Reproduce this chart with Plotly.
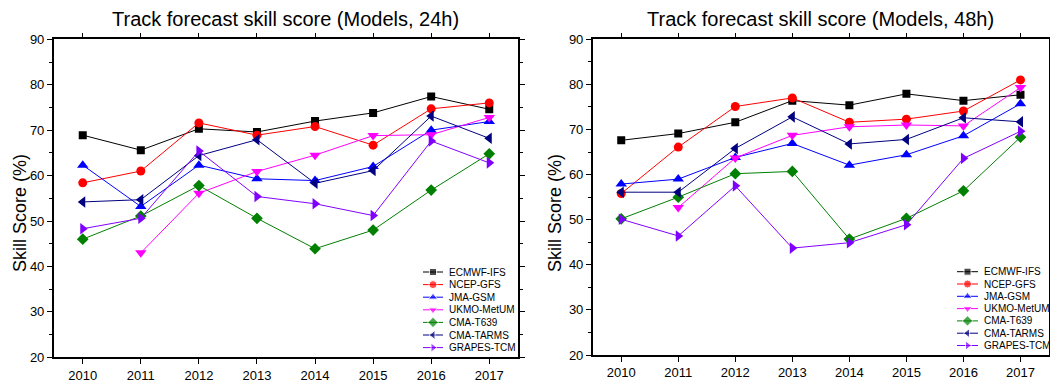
import plotly.graph_objects as go

years = [2010, 2011, 2012, 2013, 2014, 2015, 2016, 2017]
models = ["ECMWF-IFS", "NCEP-GFS", "JMA-GSM", "UKMO-MetUM", "CMA-T639", "CMA-TARMS", "GRAPES-TCM"]

# 24h skill scores (%)
ecmwf_24 = [68.9, 65.6, 70.3, 69.6, 72.0, 73.8, 77.4, 74.6]
ncep_24 = [58.4, 61.0, 71.6, 68.9, 70.8, 66.7, 74.7, 76.0]
jma_24 = [62.3, 53.2, 62.3, 59.3, 58.9, 62.0, 70.0, 71.9]
ukmo_24 = [None, 43.0, 56.1, 60.9, 64.5, 68.8, 69.0, 72.8]
t639_24 = [46.0, 51.1, 57.8, 50.6, 43.9, 48.0, 56.8, 64.8]
tarms_24 = [54.2, 54.7, 64.4, 67.9, 58.3, 61.1, 73.1, 68.2]
grapes_24 = [48.3, 50.6, 65.4, 55.4, 53.8, 51.2, 67.6, 62.8]

# 48h skill scores (%)
ecmwf_48 = [67.6, 69.1, 71.6, 76.4, 75.4, 77.9, 76.4, 77.7]
ncep_48 = [55.8, 66.1, 75.1, 77.0, 71.6, 72.3, 74.1, 81.0]
jma_48 = [57.9, 59.0, 63.8, 66.9, 62.1, 64.4, 68.6, 75.7]
ukmo_48 = [None, 52.7, 63.7, 68.7, 70.6, 71.0, 70.8, 79.3]
t639_48 = [50.2, 55.0, 60.2, 60.7, 45.7, 50.3, 56.4, 68.3]
tarms_48 = [56.1, 56.1, 65.8, 72.8, 66.8, 67.8, 72.6, 71.7]
grapes_48 = [50.1, 46.4, 57.5, 43.7, 44.9, 48.9, 63.6, 69.6]

series_24 = [ecmwf_24, ncep_24, jma_24, ukmo_24, t639_24, tarms_24, grapes_24]
series_48 = [ecmwf_48, ncep_48, jma_48, ukmo_48, t639_48, tarms_48, grapes_48]

colors = ["#000000", "#FF0000", "#0000FF", "#FF00FF", "#008000", "#000080", "#8000FF"]
symbols = ["square", "circle", "triangle-up", "triangle-down", "diamond", "triangle-left", "triangle-right"]
sizes = [8, 9, 10, 10, 9, 10, 10]
leg_sizes = [7, 8, 8, 8, 8, 8, 8]

FONT = "Arial, Liberation Sans, sans-serif"
W, H = 1050, 383

fig = go.Figure()
for i, name in enumerate(models):
    fig.add_trace(go.Scatter(
        x=years, y=series_24[i], name=name, mode="lines+markers",
        line=dict(color=colors[i], width=1),
        marker=dict(symbol=symbols[i], size=sizes[i], color=colors[i]),
        xaxis="x", yaxis="y", showlegend=False, connectgaps=False,
    ))
for i, name in enumerate(models):
    fig.add_trace(go.Scatter(
        x=years, y=series_48[i], name=name, mode="lines+markers",
        line=dict(color=colors[i], width=1),
        marker=dict(symbol=symbols[i], size=sizes[i], color=colors[i]),
        xaxis="x2", yaxis="y2", showlegend=False, connectgaps=False,
    ))

# Compact legends (pixel-space helper axis covering the page)
legend_boxes = [
    dict(x0=423, x1=443, tx=447, top=272, step=12.6),
    dict(x0=957, x1=978, tx=982, top=271.7, step=12.3),
]
annotations = []
for box in legend_boxes:
    for i, name in enumerate(models):
        ry = box["top"] + i * box["step"]
        xm = (box["x0"] + box["x1"]) / 2
        fig.add_trace(go.Scatter(
            x=[box["x0"], xm, box["x1"]], y=[ry, ry, ry], mode="lines+markers",
            line=dict(color=colors[i], width=1),
            marker=dict(symbol=symbols[i], size=[0, leg_sizes[i], 0], color=colors[i]),
            xaxis="x3", yaxis="y3", showlegend=False, hoverinfo="skip",
        ))
        annotations.append(dict(text=name, xref="paper", yref="paper", x=box["tx"] / W, y=1 - ry / H,
                                xanchor="left", yanchor="middle", showarrow=False,
                                font=dict(family=FONT, size=10, color="black")))

xdom1 = [53.7 / W, 518.3 / W]
xdom2 = [592.7 / W, 1049 / W]
ydom1 = [1 - 357.3 / H, 1 - 39.3 / H]
ydom2 = [1 - 355.0 / H, 1 - 39.3 / H]

def xax(dom, anchor):
    return dict(domain=dom, anchor=anchor, range=[2009.5, 2017.5], tickmode="array",
                tickvals=years, ticktext=[str(y) for y in years],
                showline=True, linecolor="black", linewidth=1.5, mirror="ticks",
                ticks="outside", ticklen=5, tickwidth=1.2, tickcolor="black",
                showgrid=False, zeroline=False, automargin=False,
                tickfont=dict(family=FONT, size=13, color="black"))

def yax(dom, anchor):
    return dict(domain=dom, anchor=anchor, range=[20, 90], dtick=10, tick0=20,
                showline=True, linecolor="black", linewidth=1.5, mirror="ticks",
                ticks="outside", ticklen=5, tickwidth=1.2, tickcolor="black",
                minor=dict(dtick=5, ticks="outside", ticklen=3, tickwidth=1.2, tickcolor="black", showgrid=False),
                showgrid=False, zeroline=False, automargin=False,
                tickfont=dict(family=FONT, size=13, color="black"))

for xc, title in [(sum(xdom1) / 2, "Track forecast skill score (Models, 24h)"),
                  (sum(xdom2) / 2, "Track forecast skill score (Models, 48h)")]:
    annotations.append(dict(text=title, xref="paper", yref="paper", x=xc, y=1 - 19 / H,
                            xanchor="center", yanchor="middle", showarrow=False,
                            font=dict(family=FONT, size=20, color="black")))
for xp in [20, 555]:
    annotations.append(dict(text="Skill Score (%)", xref="paper", yref="paper", x=xp / W, y=1 - 213 / H,
                            xanchor="center", yanchor="middle", showarrow=False, textangle=-90,
                            font=dict(family=FONT, size=18, color="black")))

fig.update_layout(
    width=W, height=H,
    margin=dict(l=0, r=0, t=0, b=0),
    paper_bgcolor="white", plot_bgcolor="rgba(0,0,0,0)",
    xaxis=xax(xdom1, "y"), yaxis=yax(ydom1, "x"),
    xaxis2=xax(xdom2, "y2"), yaxis2=yax(ydom2, "x2"),
    xaxis3=dict(domain=[0, 1], anchor="y3", range=[0, W], visible=False, fixedrange=True),
    yaxis3=dict(domain=[0, 1], anchor="x3", range=[H, 0], visible=False, fixedrange=True),
    showlegend=False,
    annotations=annotations,
)

fig.write_html("out.html")
